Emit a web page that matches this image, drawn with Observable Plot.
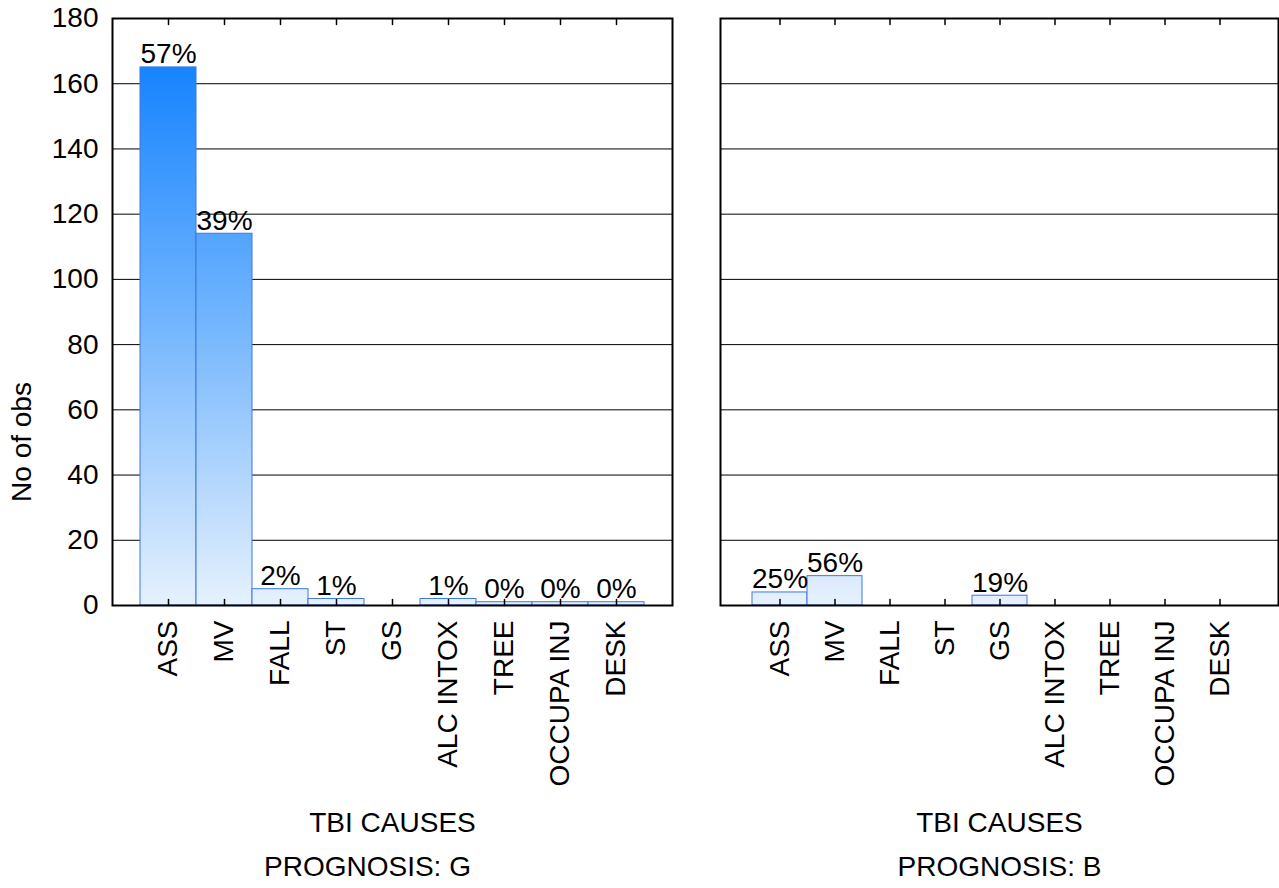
<!DOCTYPE html>
<html><head><meta charset="utf-8">
<script src="https://cdn.jsdelivr.net/npm/d3@7"></script>
<script src="https://cdn.jsdelivr.net/npm/@observablehq/plot@0.6"></script>
<style>
body{margin:0;background:#fff;}
#wrap{position:relative;width:1279px;height:888px;overflow:hidden;}
#wrap > div{position:absolute;top:0;}
</style></head><body><div id="wrap"><div id="left" style="left:0"></div><div id="right" style="left:680px"></div></div>
<script>
const causes = ["ASS","MV","FALL","ST","GS","ALC INTOX","TREE","OCCUPA INJ","DESK"];
const countsG = [165,114,5,2,0,2,1,1,1];
const countsB = [4,9,0,0,3,0,0,0,0];
const pctG = ["57%","39%","2%","1%","","1%","0%","0%","0%"];
const pctB = ["25%","56%","","","19%","","","",""];
const yTicks = [0,20,40,60,80,100,120,140,160,180];
const panelTitles = ["PROGNOSIS: G","PROGNOSIS: B"];
const xTitle = "TBI CAUSES";
const yTitle = "No of obs";
const gradValues = [0, 87, 165];
const gradColors = ["#e6f1fd", "#72b5fd", "#1784fd"];
const FS = 28;

const tickShape = {draw(ctx, l){ ctx.moveTo(0,0); ctx.lineTo(0,-l); }};

function panel(counts, pcts, title, gid, opts){
  const data = causes.map((c,i)=>({cause:c, n:counts[i], pct:pcts[i]}));
  const marks = [
    (index, scales) => {
      const defs = d3.create("svg:defs");
      const top = yTicks[yTicks.length-1];
      const lg = defs.append("linearGradient").attr("id", gid)
        .attr("gradientUnits","userSpaceOnUse")
        .attr("x1",0).attr("x2",0)
        .attr("y1", scales.y(0)).attr("y2", scales.y(top));
      gradValues.forEach((v,i)=> lg.append("stop").attr("offset", v/top).attr("stop-color", gradColors[i]));
      lg.append("stop").attr("offset",1).attr("stop-color", gradColors[gradColors.length-1]);
      return defs.node();
    },
    Plot.gridY(yTicks, {stroke:"black", strokeOpacity:1, strokeWidth:1}),
    Plot.barY(data, {x:"cause", y:"n", fill:`url(#${gid})`, stroke:"#3c78e0", strokeWidth:1}),
    Plot.vector(causes, {x:d=>d, frameAnchor:"bottom", length:6, anchor:"start", rotate:0, shape:tickShape, stroke:"black", strokeWidth:1.5}),
    Plot.vector(causes, {x:d=>d, frameAnchor:"top", length:6, anchor:"start", rotate:180, shape:tickShape, stroke:"black", strokeWidth:1.5}),
    Plot.frame({stroke:"black", strokeWidth:2}),
    Plot.axisX({tickSize:0, tickRotate:-90, tickPadding:15, fontSize:FS, label:null}),
    Plot.text(data.filter(d=>d.n>0), {x:"cause", y:"n", text:"pct", lineAnchor:"bottom", dy:-4, fontSize:FS}),
    Plot.text([xTitle], {frameAnchor:"bottom", dy:226, fontSize:FS}),
    Plot.text([title], {frameAnchor:"bottom", dx:opts.titleDx, dy:270, fontSize:FS})
  ];
  if (opts.showY) {
    marks.push(Plot.axisY(yTicks, {tickSize:0, tickPadding:14, fontSize:FS, label:null}));
    marks.push(Plot.text([yTitle], {frameAnchor:"left", textAnchor:"middle", dx:-90, dy:130, rotate:-90, fontSize:FS}));
  }
  return Plot.plot({
    width: opts.width, height: 888,
    marginLeft: opts.marginLeft, marginRight: opts.marginRight,
    marginTop: 18, marginBottom: 283,
    style:{fontFamily:"'Liberation Sans', Arial, sans-serif", fontSize:FS+"px", background:"white", overflow:"visible"},
    x:{domain:causes, paddingInner:0, paddingOuter:0.5, axis:null},
    y:{domain:[0, yTicks[yTicks.length-1]], axis:null},
    marks
  });
}

document.getElementById("left").append(panel(countsG, pctG, panelTitles[0], "gradG", {width:680, marginLeft:112, marginRight:8, showY:true, titleDx:-25}));
document.getElementById("right").append(panel(countsB, pctB, panelTitles[1], "gradB", {width:599, marginLeft:40, marginRight:1, showY:false, titleDx:0}));
</script></body></html>
